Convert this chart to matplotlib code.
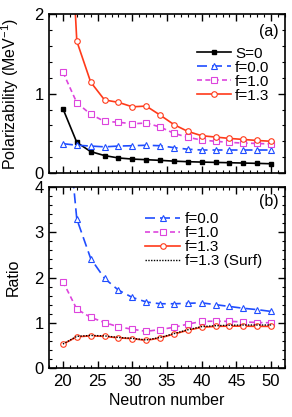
import numpy as np
import matplotlib.pyplot as plt
from matplotlib.ticker import MultipleLocator

plt.rcParams['font.family'] = ['Liberation Sans', 'DejaVu Sans']
plt.rcParams['mathtext.fontset'] = 'custom'
plt.rcParams['mathtext.rm'] = 'Liberation Sans'

# Neutron number
N = [20, 22, 24, 26, 28, 30, 32, 34, 36, 38, 40, 42, 44, 46, 48, 50]

# (a) polarizability (MeV^-1)
pol_s0 = [0.81, 0.386, 0.27, 0.22, 0.19, 0.176, 0.168, 0.16, 0.15, 0.143, 0.138, 0.134, 0.13, 0.126, 0.122, 0.117]
pol_f00 = [0.37, 0.35, 0.34, 0.33, 0.34, 0.344, 0.35, 0.344, 0.32, 0.30, 0.29, 0.29, 0.29, 0.29, 0.29, 0.29]
pol_f10 = [1.27, 0.885, 0.74, 0.65, 0.64, 0.62, 0.63, 0.58, 0.50, 0.45, 0.415, 0.40, 0.386, 0.377, 0.373, 0.365]
pol_f13 = [5.0, 1.66, 1.145, 0.92, 0.89, 0.834, 0.843, 0.73, 0.61, 0.524, 0.47, 0.453, 0.436, 0.423, 0.41, 0.40]

# (b) ratio
rat_f00 = [6.5, 3.29, 2.42, 1.98, 1.72, 1.56, 1.46, 1.42, 1.42, 1.43, 1.44, 1.40, 1.36, 1.32, 1.29, 1.25]
rat_f10 = [1.91, 1.30, 1.12, 1.005, 0.91, 0.857, 0.81, 0.85, 0.90, 0.97, 1.03, 1.035, 1.03, 1.02, 1.005, 1.0]
rat_f13 = [0.525, 0.69, 0.71, 0.70, 0.665, 0.65, 0.61, 0.665, 0.75, 0.835, 0.90, 0.92, 0.925, 0.925, 0.92, 0.92]
rat_surf = [0.53, 0.70, 0.72, 0.71, 0.675, 0.655, 0.62, 0.675, 0.76, 0.845, 0.915, 0.935, 0.945, 0.95, 0.95, 0.95]

red = '#ff3a1a'
blue = '#1f4dff'
mag = '#dd44dd'

fig = plt.figure(figsize=(2.92, 4.17), dpi=100)
ax1 = fig.add_axes([0.168, 0.585, 0.808, 0.381])
ax2 = fig.add_axes([0.168, 0.1175, 0.808, 0.434])

ms = 4
lw = 1.2
ax1.plot(N, pol_s0, color='black', lw=lw, marker='s', ms=ms - 0.5, label='S=0')
ax1.plot(N, pol_f00, color=blue, lw=lw, dashes=(6, 3), marker='^', ms=ms, mfc='white', mew=0.8, label='f=0.0')
ax1.plot(N, pol_f10, color=mag, lw=lw, dashes=(3, 2), marker='s', ms=ms, mfc='white', mew=0.8, label='f=1.0')
ax1.plot(N, pol_f13, color=red, lw=lw, marker='o', ms=ms, mfc='white', mew=0.8, label='f=1.3')

ax2.plot(N, rat_f00, color=blue, lw=lw, dashes=(6, 3), marker='^', ms=ms, mfc='white', mew=0.8, label='f=0.0')
ax2.plot(N, rat_f10, color=mag, lw=lw, dashes=(3, 2), marker='s', ms=ms, mfc='white', mew=0.8, label='f=1.0')
ax2.plot(N, rat_f13, color=red, lw=lw, marker='o', ms=ms, mfc='white', mew=0.8, label='f=1.3')
ax2.plot(N, rat_surf, color='black', lw=1.0, ls=(0, (1, 1)), label='f=1.3 (Surf)')

ax1.set_ylim(0, 2)
ax2.set_ylim(0, 4)
for ax in (ax1, ax2):
    ax.set_xlim(18, 52)
    ax.xaxis.set_major_locator(MultipleLocator(5))
    ax.xaxis.set_minor_locator(MultipleLocator(1))
    ax.yaxis.set_major_locator(MultipleLocator(1))
    ax.yaxis.set_minor_locator(MultipleLocator(0.2))
    ax.tick_params(which='both', direction='in', top=True, right=True, labelsize=12, pad=4)
    ax.tick_params(which='major', length=5, width=1)
    ax.tick_params(which='minor', length=2.5, width=0.8)
    for s in ax.spines.values():
        s.set_linewidth(1.2)

ax1.set_xticklabels([])
ax1.set_ylabel('Polarizability (MeV$^{-1}$)', fontsize=11.5)
ax2.set_ylabel('Ratio', fontsize=11.5)
ax2.set_xlabel('Neutron number', fontsize=11.5, labelpad=3)
ax1.yaxis.set_label_coords(-0.118, 0.5)
ax2.yaxis.set_label_coords(-0.118, 0.5)

ax1.text(0.975, 0.94, '(a)', transform=ax1.transAxes, ha='right', va='top', fontsize=11.5)
ax2.text(0.975, 0.96, '(b)', transform=ax2.transAxes, ha='right', va='top', fontsize=11.5)

ax1.legend(loc='upper left', bbox_to_anchor=(0.627, 0.796), frameon=False, fontsize=11,
           handlelength=2.2, handletextpad=0.3, labelspacing=0.0, borderpad=0, borderaxespad=0)
ax2.legend(loc='upper left', bbox_to_anchor=(0.407, 0.86), frameon=False, fontsize=11,
           handlelength=2.3, handletextpad=0.3, labelspacing=0.0, borderpad=0, borderaxespad=0)

fig.savefig('out.png', dpi=100)
